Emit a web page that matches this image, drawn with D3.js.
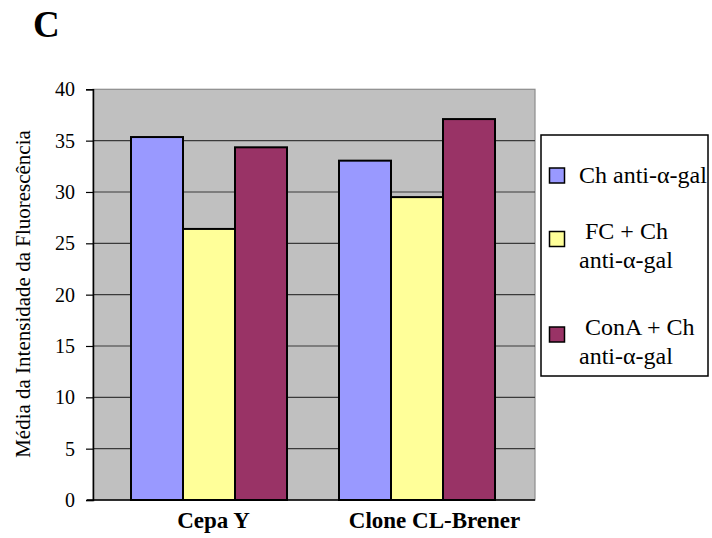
<!DOCTYPE html>
<html>
<head>
<meta charset="utf-8">
<script src="https://cdn.jsdelivr.net/npm/d3@7"></script>
<style>
  html, body { margin: 0; padding: 0; background: #fff; }
  svg text { font-family: "Liberation Serif", "Times New Roman", Times, "DejaVu Serif", serif; }
</style>
</head>
<body>
<svg id="chart" width="712" height="538"></svg>
<script>
// Strains on the x axis
const categories = ["Cepa Y", "Clone CL-Brener"];
// Treatments (legend entries) and the lines each legend label wraps to
const seriesNames = ["Ch anti-α-gal", "FC + Ch anti-α-gal", "ConA + Ch anti-α-gal"];
const legendLines = [["Ch anti-α-gal"], [" FC + Ch", "anti-α-gal"], [" ConA + Ch", "anti-α-gal"]];
const seriesColors = ["#9999FF", "#FFFF99", "#993366"];
// Mean fluorescence intensity per strain, one array per treatment
const chAntiGal = [35.35, 33.05];
const fcChAntiGal = [26.4, 29.5];
const conAChAntiGal = [34.35, 37.1];
const seriesValues = [chAntiGal, fcChAntiGal, conAChAntiGal];
const yTicks = [0, 5, 10, 15, 20, 25, 30, 35, 40];
const yTitle = "Média da Intensidade da Fluorescência";
const panelLetter = "C";

const SERIF = "'Liberation Serif', 'Times New Roman', Times, serif";
const svg = d3.select("#chart");

const plot = { left: 93, right: 535, top: 89.3, bottom: 500 };

const y = d3.scaleLinear().domain([0, 40]).range([plot.bottom, plot.top]);

// Bar groups and category labels
const xGroups = d3.scaleBand().domain(categories).range([105, 521]).padding(0);
const xInner = d3.scaleBand().domain(seriesNames).range([0, xGroups.bandwidth()])
  .paddingInner(0).paddingOuter(0.5);
const xLabels = d3.scaleBand().domain(categories).range([plot.left, plot.right]);

// Plot background
svg.append("rect")
  .attr("x", plot.left).attr("y", plot.top)
  .attr("width", plot.right - plot.left).attr("height", plot.bottom - plot.top)
  .attr("fill", "#C0C0C0")
  .attr("stroke", "#8c8c8c").attr("stroke-width", 1.2);

// Horizontal gridlines
svg.append("g")
  .selectAll("line")
  .data(yTicks.filter(d => d > 0 && d < 40))
  .join("line")
  .attr("x1", plot.left).attr("x2", plot.right)
  .attr("y1", d => y(d)).attr("y2", d => y(d))
  .attr("stroke", "#3a3a3a").attr("stroke-width", 1.2);

// Bars
const groups = svg.append("g")
  .selectAll("g")
  .data(categories)
  .join("g")
  .attr("transform", d => `translate(${xGroups(d)},0)`);

groups.selectAll("rect")
  .data((c, ci) => seriesNames.map((s, si) => ({ s, si, v: seriesValues[si][ci] })))
  .join("rect")
  .attr("x", d => xInner(d.s))
  .attr("width", xInner.bandwidth())
  .attr("y", d => y(d.v))
  .attr("height", d => y(0) - y(d.v))
  .attr("fill", d => seriesColors[d.si])
  .attr("stroke", "#000").attr("stroke-width", 2);

// Y axis
const yAxis = d3.axisLeft(y).tickValues(yTicks).tickSize(7).tickPadding(11).tickFormat(d3.format("d"));
const gy = svg.append("g").attr("transform", `translate(${plot.left},0)`).call(yAxis)
  .attr("font-family", null).attr("font-size", null);
gy.select(".domain").attr("stroke", "#000").attr("stroke-width", 1.5);
gy.selectAll(".tick line").attr("stroke", "#000").attr("stroke-width", 1.2);
gy.selectAll(".tick text")
  .style("font-family", SERIF)
  .style("font-size", "20px").attr("fill", "#000");

// X axis baseline
svg.append("line")
  .attr("x1", plot.left - 6).attr("x2", plot.right)
  .attr("y1", y(0)).attr("y2", y(0))
  .attr("stroke", "#000").attr("stroke-width", 1.5);

// Category labels
svg.append("g")
  .selectAll("text")
  .data(categories)
  .join("text")
  .attr("x", d => xLabels(d) + xLabels.bandwidth() / 2 + 10)
  .attr("y", 528)
  .attr("text-anchor", "middle")
  .style("font-family", SERIF)
  .style("font-weight", "bold")
  .style("font-size", "23px")
  .text(d => d);

// Y axis title
svg.append("text")
  .attr("transform", `translate(30,294) rotate(-90)`)
  .attr("text-anchor", "middle")
  .style("font-family", SERIF)
  .style("font-size", "21px")
  .text(yTitle);

// Panel letter
svg.append("text")
  .attr("x", 33).attr("y", 37)
  .style("font-family", SERIF)
  .style("font-weight", "bold")
  .style("font-size", "37px")
  .text(panelLetter);

// Legend
const legend = svg.append("g");
legend.append("rect")
  .attr("x", 541).attr("y", 135).attr("width", 167).attr("height", 241)
  .attr("fill", "#fff").attr("stroke", "#000").attr("stroke-width", 1.5);

const swatchY = [168, 231.5, 327];
const lineBase = [[183], [239, 268], [335, 364]];
seriesNames.forEach((name, i) => {
  legend.append("rect")
    .attr("x", 549.5).attr("y", swatchY[i]).attr("width", 15).attr("height", 15)
    .attr("fill", seriesColors[i]).attr("stroke", "#000").attr("stroke-width", 1.5);
  const t = legend.append("text")
    .style("font-family", SERIF)
    .style("font-size", "24px")
    .style("white-space", "pre");
  legendLines[i].forEach((ln, j) => {
    t.append("tspan").attr("x", 579).attr("y", lineBase[i][j]).text(ln);
  });
});
</script>
</body>
</html>
